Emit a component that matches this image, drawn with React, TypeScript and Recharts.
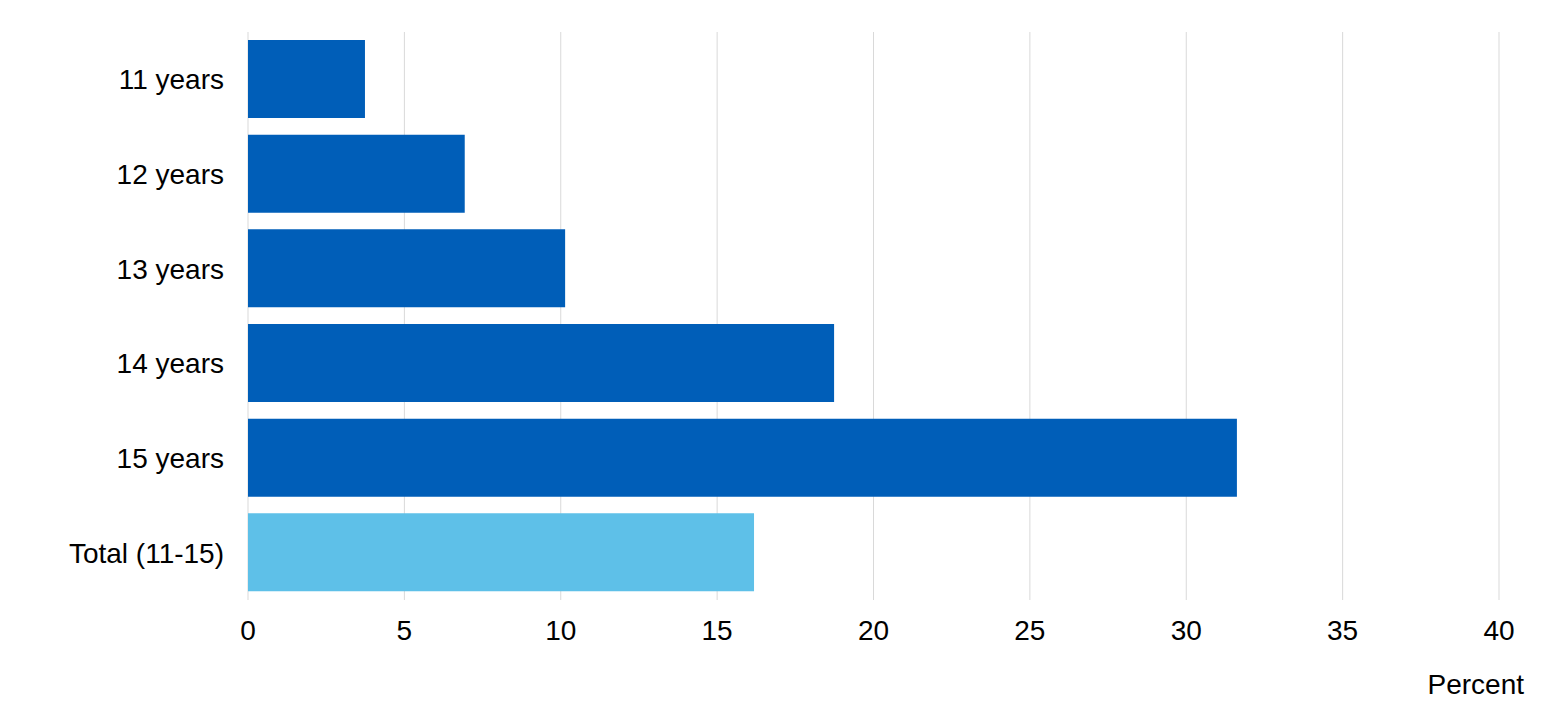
import React from "react";
import { BarChart, Bar, XAxis, YAxis, CartesianGrid, Cell } from "recharts";

const categories = ["11 years", "12 years", "13 years", "14 years", "15 years", "Total (11-15)"];
const percents = [3.74, 6.93, 10.14, 18.74, 31.62, 16.18];
const xTicks = [0, 5, 10, 15, 20, 25, 30, 35, 40];

const DARK = "#005EB8";
const LIGHT = "#5EC0E8";
const FONT = "'Liberation Sans', Arial, sans-serif";
const FONT_SIZE = 28;

const data = categories.map((name, i) => ({ name, value: percents[i] }));

export default function App() {
  return (
    <div style={{ position: "absolute", left: 0, top: 0, width: 1559, height: 715, background: "#fff", fontFamily: FONT }}>
      <BarChart
        width={1559}
        height={715}
        data={data}
        layout="vertical"
        margin={{ top: 32, right: 60, bottom: 0, left: 0 }}
        barSize={78}
      >
        <CartesianGrid horizontal={false} stroke="#d9d9d9" />
        <XAxis
          type="number"
          domain={[0, 40]}
          ticks={xTicks}
          axisLine={false}
          tickLine={false}
          tickSize={0}
          tickMargin={20}
          height={115}
          tick={{ fontSize: FONT_SIZE, fill: "#000", fontFamily: FONT }}
        />
        <YAxis
          type="category"
          dataKey="name"
          width={248}
          axisLine={false}
          tickLine={false}
          tickSize={0}
          tickMargin={24}
          tick={{ fontSize: FONT_SIZE, fill: "#000", fontFamily: FONT }}
        />
        <Bar dataKey="value" isAnimationActive={false}>
          {data.map((d, i) => (
            <Cell key={d.name} fill={i === data.length - 1 ? LIGHT : DARK} />
          ))}
        </Bar>
      </BarChart>
      <div
        style={{
          position: "absolute",
          right: 35,
          top: 671,
          fontSize: FONT_SIZE,
          lineHeight: 1,
          color: "#000",
          fontFamily: FONT,
        }}
      >
        Percent
      </div>
    </div>
  );
}
